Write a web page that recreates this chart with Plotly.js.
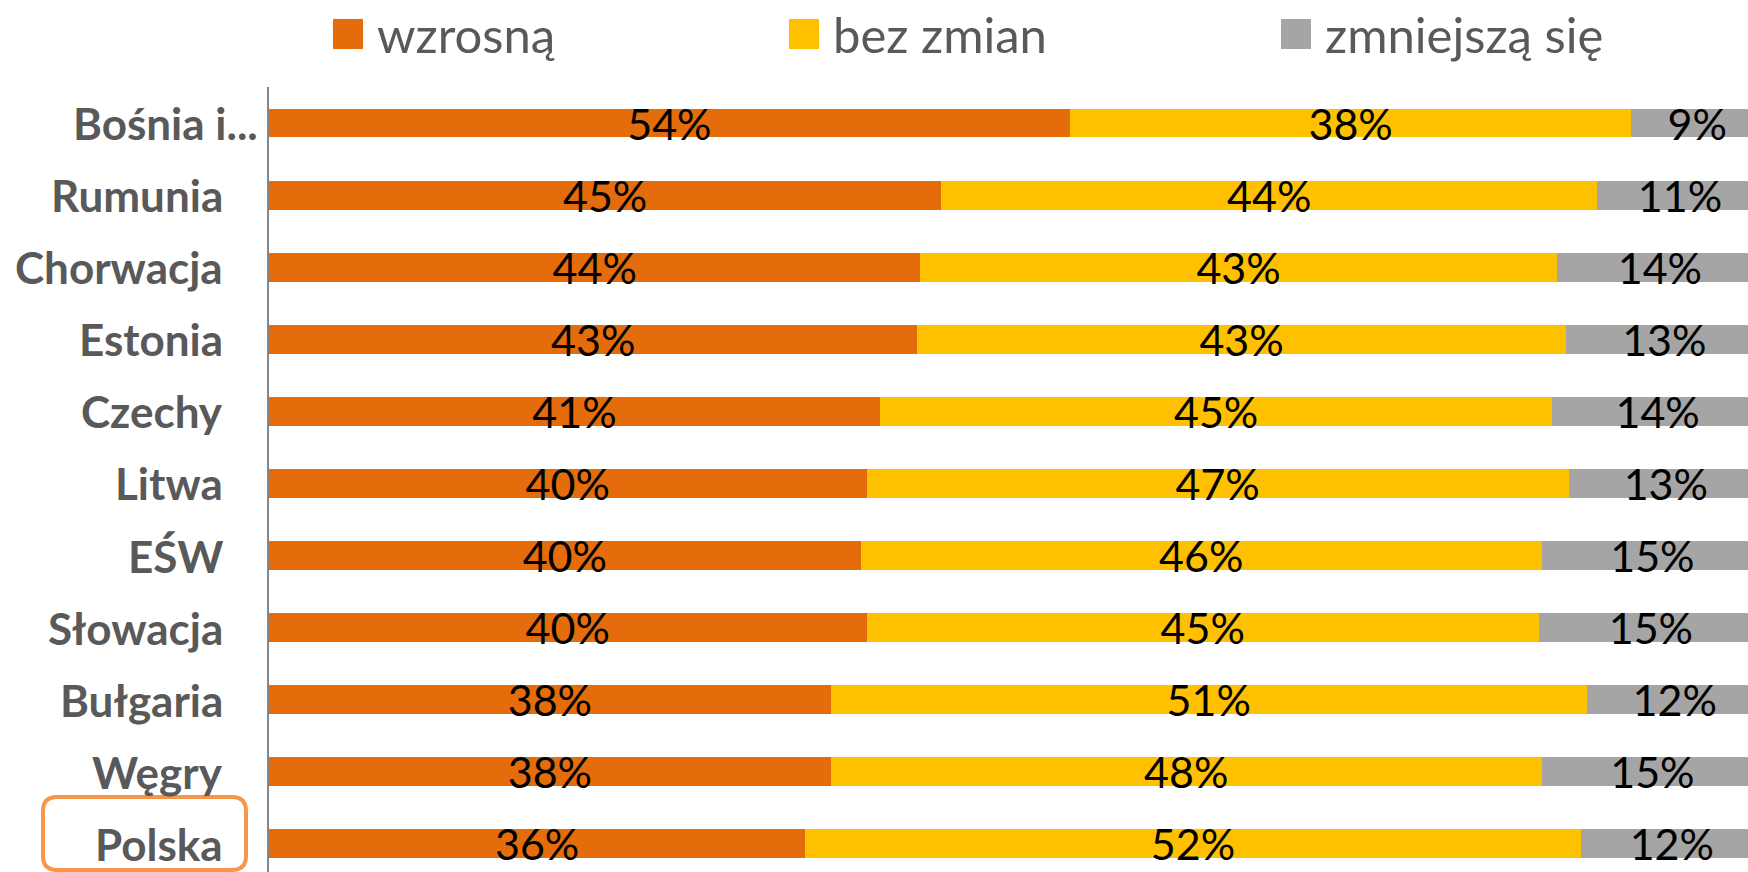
<!DOCTYPE html>
<html>
<head>
<meta charset="utf-8">
<script src="https://cdn.plot.ly/plotly-3.0.1.min.js"></script>
<style>html,body{margin:0;padding:0;background:#fff;}#chart{width:1748px;height:872px;}</style>
</head>
<body>
<div id="chart"></div>
<script>
const categories = ['Bośnia i...', 'Rumunia', 'Chorwacja', 'Estonia', 'Czechy', 'Litwa', 'EŚW', 'Słowacja', 'Bułgaria', 'Węgry', 'Polska'];
const seriesNames = ['wzrosną', 'bez zmian', 'zmniejszą się'];
const wzrosna   = [53.6, 45.0, 43.6, 43.4, 40.9, 40.0, 39.6, 40.0, 37.6, 37.6, 35.9];
const bezZmian  = [37.6, 43.9, 42.6, 43.4, 45.0, 47.0, 45.6, 45.0, 50.6, 47.6, 51.9];
const zmniejsza = [8.8, 11.1, 13.8, 13.2, 14.1, 13.0, 14.8, 15.0, 11.8, 14.8, 12.2];
const highlighted = 'Polska';

const colors = ['#E46C0A', '#FFC000', '#A5A5A5'];
const W = 1748, H = 872;
const L = 269, T = 87;
const plotW = W - L, plotH = H - T;
const px2x = p => (p - L) / plotW;
const px2y = p => 1 - (p - T) / plotH;

const font = 'Lato, "Open Sans", sans-serif';
const values = [wzrosna, bezZmian, zmniejsza];
const traces = values.map((v, i) => ({
  type: 'bar', orientation: 'h',
  y: categories, x: v, name: seriesNames[i],
  marker: {color: colors[i], line: {width: 0}},
  texttemplate: '%{x:.0f}%',
  textposition: 'inside', insidetextanchor: 'middle',
  constraintext: 'none', cliponaxis: true,
  textfont: {family: font, size: 43, color: '#000'},
  hoverinfo: 'skip'
}));

const annotations = [];
const shapes = [];
// category labels
categories.forEach((c, i) => {
  annotations.push({
    xref: 'paper', yref: 'y', x: 0, y: c,
    xanchor: 'right', yanchor: 'middle',
    xshift: i === 0 ? -9 : -44, yshift: 0,
    text: '<b>' + c + '</b>', showarrow: false,
    font: {family: font, size: 44, color: '#595959'}
  });
});
// legend
const legX = [333, 789, 1281];
seriesNames.forEach((n, i) => {
  shapes.push({type: 'rect', xref: 'paper', yref: 'paper',
    x0: px2x(legX[i]), x1: px2x(legX[i] + 30), y0: px2y(19), y1: px2y(49),
    fillcolor: colors[i], line: {width: 0}});
  annotations.push({xref: 'paper', yref: 'paper', x: px2x(legX[i] + 42), y: px2y(34),
    xanchor: 'left', yanchor: 'middle', text: n, showarrow: false,
    font: {family: font, size: 49, color: '#595959'}});
});
// highlight box around Polska label
(function(){
  const x0 = 43, x1 = 246, y0 = 797, y1 = 870, r = 14;
  const X = p => px2x(p), Y = p => px2y(p);
  const path = `M${X(x0 + r)},${Y(y0)} L${X(x1 - r)},${Y(y0)} Q${X(x1)},${Y(y0)} ${X(x1)},${Y(y0 + r)} ` +
    `L${X(x1)},${Y(y1 - r)} Q${X(x1)},${Y(y1)} ${X(x1 - r)},${Y(y1)} L${X(x0 + r)},${Y(y1)} ` +
    `Q${X(x0)},${Y(y1)} ${X(x0)},${Y(y1 - r)} L${X(x0)},${Y(y0 + r)} Q${X(x0)},${Y(y0)} ${X(x0 + r)},${Y(y0)} Z`;
  if (categories.indexOf(highlighted) >= 0) {
    shapes.push({type: 'path', xref: 'paper', yref: 'paper', path: path,
      line: {color: '#F79646', width: 4}, fillcolor: 'rgba(0,0,0,0)'});
  }
})();

const layout = {
  width: W, height: H,
  margin: {l: L, r: 0, t: T, b: 0, pad: 0},
  paper_bgcolor: '#fff', plot_bgcolor: '#fff',
  barmode: 'stack', bargap: 0.6,
  showlegend: false,
  xaxis: {range: [0, 99.0], showgrid: false, zeroline: false, showticklabels: false, ticks: '', fixedrange: true},
  yaxis: {type: 'category', range: [10.39, -0.5], showgrid: false, zeroline: false,
          showticklabels: false, ticks: '', showline: true, linecolor: '#868686', linewidth: 2, fixedrange: true},
  annotations: annotations,
  shapes: shapes
};

Plotly.newPlot('chart', traces, layout, {staticPlot: true, displayModeBar: false});
</script>
</body>
</html>
